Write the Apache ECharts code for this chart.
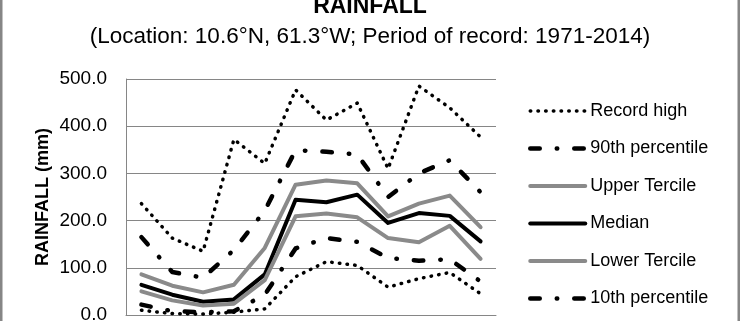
<!DOCTYPE html>
<html>
<head>
<meta charset="utf-8">
<script src="https://cdn.jsdelivr.net/npm/echarts@6/dist/echarts.min.js"></script>
<style>
html,body{margin:0;padding:0;background:#fff;}
#chart{width:740px;height:321px;}
</style>
</head>
<body>
<div id="chart"></div>
<script>
const months = ['Jan','Feb','Mar','Apr','May','Jun','Jul','Aug','Sep','Oct','Nov','Dec'];
const recordHigh   = [236, 163, 135, 372, 321, 477, 413, 449, 310, 485, 439, 377];
const pct90        = [165, 91, 79, 138, 221, 349, 346, 340, 250, 300, 328, 260];
const upperTercile = [86, 62, 48, 64, 142, 276, 285, 279, 209, 236, 253, 186];
const median       = [64, 43, 28, 33, 86, 244, 239, 255, 195, 216, 210, 156];
const lowerTercile = [50, 31, 20, 24, 74, 209, 215, 207, 163, 154, 189, 119];
const pct10        = [22, 8, 6, 8, 43, 141, 163, 155, 121, 115, 118, 71];
const recordLow    = [10, 3, 2, 6, 13, 81, 113, 105, 59, 77, 90, 45];
const yTicks = [0, 100, 200, 300, 400, 500];

const GRAY = '#8a8a8a';
const dotted = [0.5, 7.2];
const dashDot = [9.5, 17, 0.5, 17];

function mk(name, data, color, width, type) {
  return {
    name: name, type: 'line', data: data, symbol: 'none', showSymbol: false,
    animation: false, silent: true,
    lineStyle: { color: color, width: width, type: type || 'solid', cap: 'round', join: 'round' },
    itemStyle: { color: color }
  };
}

const chart = echarts.init(document.getElementById('chart'), null, {renderer: 'canvas'});
chart.setOption({
  animation: false,
  backgroundColor: '#fff',
  graphic: [
    { type: 'text', x: 370, y: 7, silent: true,
      style: { text: 'RAINFALL', font: 'bold 23px "Liberation Sans"', fill: '#000', align: 'center', verticalAlign: 'middle' } },
    { type: 'text', x: 370, y: 37, silent: true,
      style: { text: '(Location: 10.6°N, 61.3°W; Period of record: 1971-2014)', font: '22.5px "Liberation Sans"', fill: '#000', align: 'center', verticalAlign: 'middle' } },
    { type: 'rect', silent: true, shape: { x: 1.25, y: -10, width: 737.5, height: 345 },
      style: { fill: 'none', stroke: '#868686', lineWidth: 2.5 } }
  ],
  grid: { left: 126, right: 244, top: 79, bottom: 6, containLabel: false, outerBoundsMode: 'none' },
  legend: {
    orient: 'vertical', left: 528, top: 101, height: 400, padding: 0,
    itemWidth: 55, itemHeight: 14, itemGap: 17.5,
    textStyle: { fontFamily: 'Liberation Sans', fontSize: 18, color: '#000', lineHeight: 20 },
    itemStyle: { opacity: 0 },
    lineStyle: { width: 'inherit', type: 'inherit', cap: 'inherit', color: 'inherit' },
    data: ['Record high', '90th percentile', 'Upper Tercile', 'Median', 'Lower Tercile', '10th percentile', 'Record low']
  },
  xAxis: {
    type: 'category', data: months, boundaryGap: true,
    axisLine: { show: true, lineStyle: { color: '#868686', width: 1 } },
    axisTick: { show: false },
    axisLabel: { fontFamily: 'Liberation Sans', fontSize: 19, color: '#000' },
    splitLine: { show: false }
  },
  yAxis: {
    type: 'value', min: 0, max: 500, interval: 100,
    name: 'RAINFALL (mm)', nameLocation: 'middle', nameGap: 74, nameRotate: 90,
    nameTextStyle: { fontFamily: 'Liberation Sans', fontWeight: 'bold', fontSize: 18, color: '#000' },
    axisLine: { show: true, lineStyle: { color: '#868686', width: 1 } },
    axisTick: { show: false },
    axisLabel: { margin: 19, fontFamily: 'Liberation Sans', fontSize: 19, color: '#000',
      formatter: function (v) { return yTicks.indexOf(v) >= 0 ? v.toFixed(1) : ''; } },
    splitLine: { show: true, lineStyle: { color: '#868686', width: 1 } }
  },
  series: [
    mk('Record high', recordHigh, '#000', 3.5, dotted),
    mk('90th percentile', pct90, '#000', 4.5, dashDot),
    mk('Upper Tercile', upperTercile, GRAY, 4),
    mk('Median', median, '#000', 4),
    mk('Lower Tercile', lowerTercile, GRAY, 4),
    mk('10th percentile', pct10, '#000', 4.5, dashDot),
    mk('Record low', recordLow, '#000', 3.5, dotted)
  ]
});
</script>
</body>
</html>
